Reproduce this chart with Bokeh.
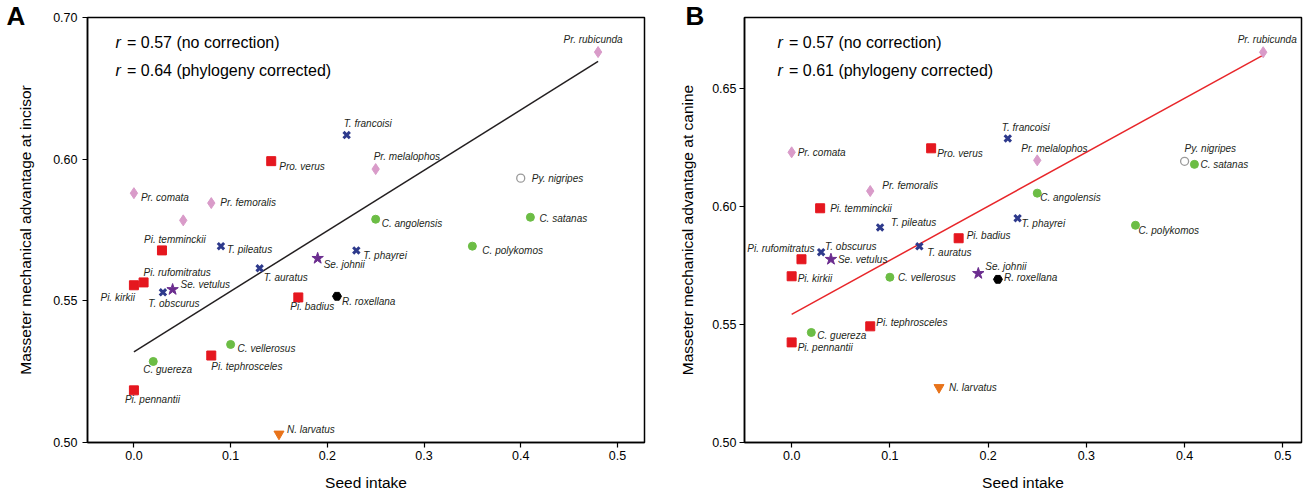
from bokeh.plotting import figure
from bokeh.models import Range1d, FixedTicker, PrintfTickFormatter, Label, ColumnDataSource
from bokeh.layouts import row
from bokeh.embed import file_html
from bokeh.resources import INLINE
from bokeh.core.properties import value

# ---------------- data ----------------
species = ["Pr. comata", "Pr. femoralis", "Pro. verus", "Pi. temminckii", "T. pileatus",
           "Pi. rufomitratus", "Pi. kirkii", "T. obscurus", "Se. vetulus", "T. auratus",
           "Pi. badius", "C. vellerosus", "Pi. tephrosceles", "C. guereza", "Pi. pennantii",
           "N. larvatus", "Pr. rubicunda", "T. francoisi", "Pr. melalophos", "Py. nigripes",
           "C. angolensis", "C. satanas", "C. polykomos", "T. phayrei", "Se. johnii",
           "R. roxellana"]
genus = ["Presbytis", "Presbytis", "Piliocolobus", "Piliocolobus", "Trachypithecus",
         "Piliocolobus", "Piliocolobus", "Trachypithecus", "Semnopithecus", "Trachypithecus",
         "Piliocolobus", "Colobus", "Piliocolobus", "Colobus", "Piliocolobus",
         "Nasalis", "Presbytis", "Trachypithecus", "Presbytis", "Pygathrix",
         "Colobus", "Colobus", "Colobus", "Trachypithecus", "Semnopithecus",
         "Rhinopithecus"]
seed_intake = [0.000, 0.080, 0.142, 0.029, 0.090,
               0.010, 0.000, 0.030, 0.040, 0.130,
               0.170, 0.100, 0.080, 0.020, 0.000,
               0.150, 0.480, 0.220, 0.250, 0.400,
               0.250, 0.410, 0.350, 0.230, 0.190,
               0.210]
ma_incisor = [0.5880, 0.5845, 0.5993, 0.5678, 0.5693,
              0.5565, 0.5555, 0.5530, 0.5540, 0.5615,
              0.5512, 0.5346, 0.5307, 0.5286, 0.5184,
              0.5030, 0.6378, 0.6085, 0.5965, 0.5933,
              0.5788, 0.5795, 0.5693, 0.5678, 0.5650,
              0.5516]
ma_canine = [0.6229, 0.6065, 0.6246, 0.5992, 0.5911,
             0.5776, 0.5704, 0.5806, 0.5776, 0.5831,
             0.5865, 0.5700, 0.5492, 0.5466, 0.5424,
             0.5233, 0.6653, 0.6288, 0.6195, 0.6191,
             0.6056, 0.6178, 0.5920, 0.5950, 0.5716,
             0.5691]
# unlabelled Presbytis point present only in panel A
extra_a_seed = [0.051]
extra_a_ma = [0.5784]

fit_a_x = [0.0, 0.48]
fit_a_y = [0.532, 0.6345]
fit_b_x = [0.0, 0.48]
fit_b_y = [0.5543, 0.6641]

x_ticks = [0.0, 0.1, 0.2, 0.3, 0.4, 0.5]
y_ticks = [0.50, 0.55, 0.60, 0.65]
y_top_label_a = "0.70"

# ---------------- label placement (screen px offsets) ----------------
place_a = {
    "Pr. comata": (7, 4, "left"), "Pr. femoralis": (9, -1, "left"), "Pro. verus": (8, 5, "left"),
    "Pi. temminckii": (13, -11, "center"), "T. pileatus": (6, 3, "left"),
    "Pi. rufomitratus": (0, -10, "left"), "Pi. kirkii": (1, 12, "right"),
    "T. obscurus": (11, 11, "center"), "Se. vetulus": (8, -5, "left"), "T. auratus": (4, 9, "left"),
    "Pi. badius": (-8, 9, "left"), "C. vellerosus": (7, 4, "left"), "Pi. tephrosceles": (0, 11, "left"),
    "C. guereza": (-10, 8, "left"), "Pi. pennantii": (-9, 9, "left"), "N. larvatus": (8, -5, "left"),
    "Pr. rubicunda": (-5, -13, "center"), "T. francoisi": (-3, -12, "left"),
    "Pr. melalophos": (-2, -13, "left"), "Py. nigripes": (11, 0, "left"),
    "C. angolensis": (6, 4, "left"), "C. satanas": (9, 1, "left"), "C. polykomos": (10, 4, "left"),
    "T. phayrei": (7, 5, "left"), "Se. johnii": (6, 6, "left"), "R. roxellana": (5, 5, "left"),
}
place_b = {
    "Pr. comata": (6, 0, "left"), "Pro. verus": (6, 5, "left"), "Pr. femoralis": (12, -6, "left"),
    "Pi. temminckii": (10, 0, "left"), "T. pileatus": (11, -5, "left"), "Pi. badius": (8, -3, "left"),
    "T. auratus": (8, 6, "left"), "T. obscurus": (4, -6, "left"), "Pi. rufomitratus": (13, -11, "right"),
    "Se. vetulus": (7, 0, "left"), "Pi. kirkii": (6, 2, "left"), "C. vellerosus": (8, 0, "left"),
    "Pi. tephrosceles": (6, -4, "left"), "C. guereza": (6, 3, "left"), "Pi. pennantii": (6, 5, "left"),
    "N. larvatus": (10, 0, "left"), "Pr. rubicunda": (4, -13, "center"), "T. francoisi": (-6, -11, "left"),
    "Pr. melalophos": (-16, -12, "left"), "Py. nigripes": (0, -13, "left"), "C. satanas": (6, 0, "left"),
    "C. angolensis": (3, 4, "left"), "T. phayrei": (4, 5, "left"), "C. polykomos": (3, 5, "left"),
    "Se. johnii": (7, -7, "left"), "R. roxellana": (6, -2, "left"),
}

styles = {
    "Presbytis": dict(marker="diamond", size=11, fill_color="#d99bc9", line_color="#d99bc9", line_width=1),
    "Piliocolobus": dict(marker="square", size=9, fill_color="#e5171f", line_color="#e5171f", line_width=1),
    "Trachypithecus": dict(marker="x", size=9, fill_color="#2e3a8c", line_color="#2e3a8c", line_width=3),
    "Semnopithecus": dict(marker="star", size=12, fill_color="#6b2d8f", line_color="#6b2d8f", line_width=1),
    "Colobus": dict(marker="circle", size=8, fill_color="#6cbd45", line_color="#6cbd45", line_width=1),
    "Pygathrix": dict(marker="circle", size=8, fill_color="white", line_color="#9a9a9a", line_width=1.3),
    "Rhinopithecus": dict(marker="hex", size=9, fill_color="black", line_color="black", line_width=1),
    "Nasalis": dict(marker="inverted_triangle", size=10, fill_color="#e8731a", line_color="#e8731a", line_width=1),
}

FONT = value("Liberation Sans")
TXT = "#231f20"


def make_fig(width, bl, br, x_end, y_end, ylabel, lab_standoff, ax_standoff, letter, letter_off):
    p = figure(width=width, height=493, x_range=Range1d(-0.048, x_end),
               y_range=Range1d(0.5, y_end), output_backend="svg", toolbar_location=None,
               min_border_left=bl, min_border_right=br, min_border_top=17, min_border_bottom=51)
    p.title.text = letter
    p.title.align = "left"
    p.title.vertical_align = "top"
    p.title.offset = letter_off
    p.title.standoff = -33
    p.title.text_font = "Liberation Sans"
    p.title.text_font_size = "26px"
    p.title.text_font_style = "bold"
    p.title.text_color = "black"
    p.xgrid.visible = False
    p.ygrid.visible = False
    p.outline_line_color = "black"
    p.outline_line_width = 1.5
    p.outline_line_alpha = 1
    p.background_fill_color = "white"
    p.border_fill_color = "white"
    p.xaxis.ticker = FixedTicker(ticks=x_ticks)
    p.xaxis.formatter = PrintfTickFormatter(format="%.1f")
    p.yaxis.ticker = FixedTicker(ticks=y_ticks)
    p.yaxis.formatter = PrintfTickFormatter(format="%.2f")
    p.xaxis.axis_label = "Seed intake"
    p.yaxis.axis_label = ylabel
    for ax in (p.xaxis, p.yaxis):
        ax.axis_line_width = 1.5
        ax.axis_line_color = "black"
        ax.major_tick_line_width = 1.2
        ax.major_tick_line_color = "black"
        ax.major_tick_out = 5
        ax.major_tick_in = 0
        ax.minor_tick_line_color = None
        ax.major_label_text_font = "Liberation Sans"
        ax.major_label_text_font_size = "12.5px"
        ax.major_label_text_color = "black"
        ax.axis_label_text_font = "Liberation Sans"
        ax.axis_label_text_font_size = "15.5px"
        ax.axis_label_text_font_style = "normal"
        ax.axis_label_text_color = "black"
    p.xaxis.major_label_standoff = 3
    p.xaxis.axis_label_standoff = 11
    p.yaxis.major_label_standoff = lab_standoff
    p.yaxis.axis_label_standoff = ax_standoff
    return p


def draw_points(p, xs, ys, names, gens, place):
    for g, st in styles.items():
        idx = [i for i, gg in enumerate(gens) if gg == g]
        if not idx:
            continue
        src = ColumnDataSource(dict(x=[xs[i] for i in idx], y=[ys[i] for i in idx]))
        p.scatter("x", "y", source=src, **st)
    for al in ("left", "center", "right"):
        idx = [i for i, n in enumerate(names) if n in place and place[n][2] == al]
        if not idx:
            continue
        src = ColumnDataSource(dict(x=[xs[i] for i in idx], y=[ys[i] for i in idx],
                                    t=[names[i] for i in idx],
                                    dx=[place[names[i]][0] for i in idx],
                                    dy=[place[names[i]][1] for i in idx]))
        p.text("x", "y", text="t", x_offset="dx", y_offset="dy", source=src,
               text_align=al, text_baseline="middle", text_font=FONT,
               text_font_style="italic", text_font_size="10px", text_color=TXT)


def r_text(p, x0, r_val, note):
    for k, (rv, nt) in enumerate(zip(r_val, note)):
        yy = 400 - 28 * k
        p.add_layout(Label(x=x0, y=yy, x_units="screen", y_units="screen", text="r",
                           text_font="Liberation Sans", text_font_style="italic",
                           text_font_size="16px", text_baseline="middle", text_color="black"))
        p.add_layout(Label(x=x0 + 11.5, y=yy, x_units="screen", y_units="screen",
                           text="= %s (%s)" % (rv, nt),
                           text_font="Liberation Sans", text_font_size="16px",
                           text_baseline="middle", text_color="black"))


# ---------------- panel A ----------------
pa = make_fig(658, 87, 14, 0.528, 0.65, "Masseter mechanical advantage at incisor", 5, 16, "A", -81)
pa.yaxis.major_label_overrides = {0.65: y_top_label_a}
pa.line(fit_a_x, fit_a_y, line_color="#231f20", line_width=1.5)
draw_points(pa, seed_intake + extra_a_seed, ma_incisor + extra_a_ma,
            species + [""], genus + ["Presbytis"], place_a)
r_text(pa, 28, ["0.57", "0.64"], ["no correction", "phylogeny corrected"])

# ---------------- panel B ----------------
pb = make_fig(646, 86, 3, 0.519, 0.68, "Masseter mechanical advantage at canine", 3, 13, "B", -59)
pb.line(fit_b_x, fit_b_y, line_color="#e8262a", line_width=1.5)
draw_points(pb, seed_intake, ma_canine, species, genus, place_b)
r_text(pb, 33, ["0.57", "0.61"], ["no correction", "phylogeny corrected"])

layout = row(pa, pb)
open("out.html", "w").write(file_html(layout, INLINE))
